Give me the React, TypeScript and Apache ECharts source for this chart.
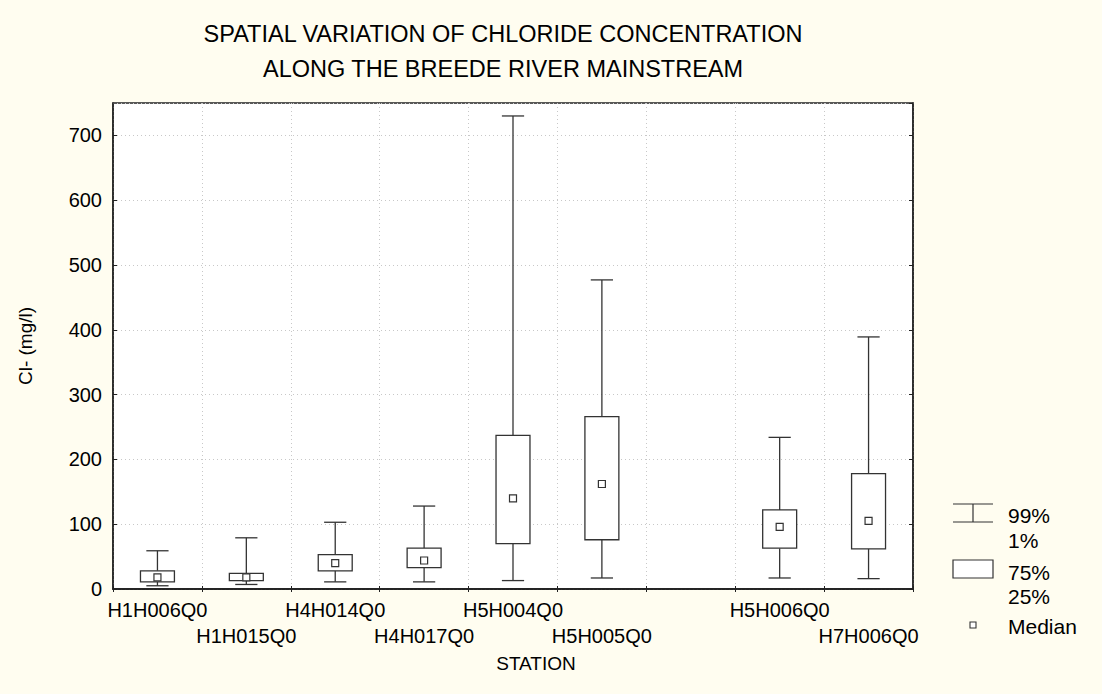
import React, { useEffect, useRef } from "react";
import * as echarts from "echarts";

const categories = ["H1H006Q0", "H1H015Q0", "H4H014Q0", "H4H017Q0", "H5H004Q0", "H5H005Q0", "", "H5H006Q0", "H7H006Q0"];
const labelRow = [0, 1, 0, 1, 0, 1, 0, 0, 1];
const p1 = [5, 7, 11, 11, 13, 17, null, 17, 16];
const q1 = [11, 13, 28, 33, 70, 76, null, 63, 62];
const median = [18, 18, 40, 44, 140, 162, null, 96, 105];
const q3 = [28, 24, 53, 63, 237, 266, null, 122, 178];
const p99 = [59, 79, 103, 128, 730, 477, null, 234, 389];

const FONT = "'Liberation Sans', Arial, sans-serif";
const LINE = "#333333";

export default function App() {
  const ref = useRef<HTMLDivElement>(null);
  useEffect(() => {
    if (!ref.current) return;
    const chart = echarts.init(ref.current, null, { renderer: "svg" });
    const data: any[] = [];
    categories.forEach((c, i) => {
      if (median[i] == null) return;
      data.push([i, p1[i], q1[i], median[i], q3[i], p99[i]]);
    });
    const legendFont = `21px ${FONT}`;
    const option: any = {
      animation: false,
      backgroundColor: "#FFFDF0",
      textStyle: { fontFamily: FONT },
      title: {
        text: "SPATIAL VARIATION OF CHLORIDE CONCENTRATION\nALONG THE BREEDE RIVER MAINSTREAM",
        left: 498,
        top: 11,
        textAlign: "center",
        textStyle: { fontFamily: FONT, fontSize: 23.5, fontWeight: "normal", color: "#000", lineHeight: 35 },
      },
      grid: { left: 113, right: 189, top: 103, bottom: 105, show: true, backgroundColor: "#ffffff", borderColor: "#222", borderWidth: 1.5 },
      xAxis: [
        {
          type: "category",
          data: categories,
          position: "bottom",
          name: "STATION",
          nameLocation: "middle",
          nameGap: 62,
          nameTextStyle: { fontFamily: FONT, fontSize: 19, color: "#000", padding: [0, 0, 0, 46] },
          axisLine: { show: true, lineStyle: { color: "#222", width: 1.5 } },
          axisTick: { show: true, inside: true, length: 3, lineStyle: { color: "#222" } },
          splitLine: { show: true, interval: 0, lineStyle: { color: "#c8c8c8", type: [1, 3], width: 1 } },
          axisLabel: {
            interval: 0,
            margin: 8,
            fontFamily: FONT,
            fontSize: 20,
            color: "#000",
            lineHeight: 26,
            formatter: (v: string, i: number) => (labelRow[i] ? "\n" + v : v),
          },
        },
        {
          type: "category",
          data: categories,
          position: "top",
          axisLine: { show: true, lineStyle: { color: "#222", width: 1.5 } },
          axisTick: { show: true, inside: true, length: 3, lineStyle: { color: "#222" } },
          axisLabel: { show: false },
          splitLine: { show: false },
        },
      ],
      yAxis: [
        {
          type: "value",
          min: 0,
          max: 750,
          interval: 100,
          name: "Cl- (mg/l)",
          nameLocation: "middle",
          nameGap: 78,
          nameTextStyle: { fontFamily: FONT, fontSize: 19, color: "#000" },
          axisLine: { show: true, lineStyle: { color: "#222", width: 1.5 } },
          axisTick: { show: true, inside: true, length: 4, lineStyle: { color: "#222" } },
          axisLabel: { showMaxLabel: false, margin: 11, fontFamily: FONT, fontSize: 20, color: "#000" },
          splitLine: { show: true, lineStyle: { color: "#c8c8c8", type: [1, 3], width: 1 } },
        },
        {
          type: "value",
          min: 0,
          max: 750,
          interval: 100,
          position: "right",
          axisLine: { show: true, lineStyle: { color: "#222", width: 1.5 } },
          axisTick: { show: true, inside: true, length: 4, lineStyle: { color: "#222" } },
          axisLabel: { show: false },
          splitLine: { show: false },
        },
      ],
      series: [
        {
          type: "custom",
          xAxisIndex: 0,
          yAxisIndex: 0,
          data,
          encode: { x: 0, y: [1, 2, 3, 4, 5] },
          renderItem: (params: any, api: any) => {
            const x = api.value(0);
            const lo = api.coord([x, api.value(1)]);
            const b1 = api.coord([x, api.value(2)]);
            const md = api.coord([x, api.value(3)]);
            const b3 = api.coord([x, api.value(4)]);
            const hi = api.coord([x, api.value(5)]);
            const slot = api.size([1, 0])[0];
            const bw = slot * 0.382;
            const cw = slot * 0.25;
            const cx = lo[0];
            const ls = { stroke: LINE, lineWidth: 1.3, fill: null };
            return {
              type: "group",
              children: [
                { type: "line", shape: { x1: cx, y1: hi[1], x2: cx, y2: b3[1] }, style: ls },
                { type: "line", shape: { x1: cx, y1: b1[1], x2: cx, y2: lo[1] }, style: ls },
                { type: "line", shape: { x1: cx - cw / 2, y1: hi[1], x2: cx + cw / 2, y2: hi[1] }, style: ls },
                { type: "line", shape: { x1: cx - cw / 2, y1: lo[1], x2: cx + cw / 2, y2: lo[1] }, style: ls },
                { type: "rect", shape: { x: cx - bw / 2, y: b3[1], width: bw, height: b1[1] - b3[1] }, style: { stroke: LINE, lineWidth: 1.3, fill: "#ffffff" } },
                { type: "rect", shape: { x: cx - 3.5, y: md[1] - 3.5, width: 7, height: 7 }, style: { stroke: LINE, lineWidth: 1.2, fill: "#ffffff" } },
              ],
            };
          },
        },
      ],
      graphic: [
        { type: "line", shape: { x1: 953, y1: 504, x2: 993, y2: 504 }, style: { stroke: LINE, lineWidth: 1.2 } },
        { type: "line", shape: { x1: 953, y1: 522, x2: 993, y2: 522 }, style: { stroke: LINE, lineWidth: 1.2 } },
        { type: "line", shape: { x1: 973, y1: 504, x2: 973, y2: 522 }, style: { stroke: LINE, lineWidth: 1.2 } },
        { type: "text", x: 1008, y: 515, style: { text: "99%", font: legendFont, fill: "#000", verticalAlign: "middle" } },
        { type: "text", x: 1008, y: 540, style: { text: "1%", font: legendFont, fill: "#000", verticalAlign: "middle" } },
        { type: "rect", shape: { x: 953, y: 560, width: 40, height: 18 }, style: { stroke: LINE, lineWidth: 1.2, fill: "#ffffff" } },
        { type: "text", x: 1008, y: 572, style: { text: "75%", font: legendFont, fill: "#000", verticalAlign: "middle" } },
        { type: "text", x: 1008, y: 596, style: { text: "25%", font: legendFont, fill: "#000", verticalAlign: "middle" } },
        { type: "rect", shape: { x: 970, y: 622, width: 6, height: 6 }, style: { stroke: LINE, lineWidth: 1.1, fill: "#ffffff" } },
        { type: "text", x: 1008, y: 626, style: { text: "Median", font: legendFont, fill: "#000", verticalAlign: "middle" } },
      ],
    };
    chart.setOption(option);
    return () => chart.dispose();
  }, []);
  return <div ref={ref} style={{ position: "fixed", left: 0, top: 0, width: 1102, height: 694 }} />;
}
